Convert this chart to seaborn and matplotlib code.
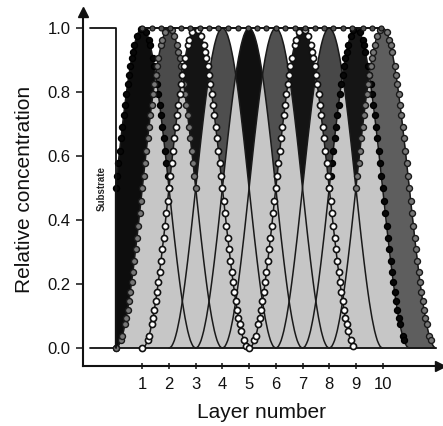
import numpy as np
import pandas as pd
import seaborn as sns
import matplotlib.pyplot as plt

# ---------------------------------------------------------
# data
# ---------------------------------------------------------
layers = [1, 2, 3, 4, 5, 6, 7, 8, 9, 10]

# concentration of one layer vs distance from its own centre
# (0 .. 2 layers, every 0.05 layer) - same shape for all layers
step = 0.05
profile_half = [1.000, 0.998, 0.994, 0.986, 0.976, 0.962, 0.946, 0.926, 0.905, 0.880,
                0.854, 0.825, 0.794, 0.761, 0.727, 0.691, 0.655, 0.617, 0.578, 0.539,
                0.500, 0.461, 0.422, 0.383, 0.345, 0.309, 0.273, 0.239, 0.206, 0.175,
                0.146, 0.120, 0.095, 0.074, 0.054, 0.038, 0.024, 0.014, 0.006, 0.002,
                0.000]

# total concentration (dotted top line)
total_from, total_to, total_level = 1, 10, 1.0

# substrate block on the left
substrate_from, substrate_to = -0.95, 0.0

# colour of the part where a layer is the highest one
peak_colors = ['#0d0d0d', '#4b4b4b', '#141414', '#4e4e4e', '#101010',
               '#505050', '#141414', '#484848', '#151515', '#5e5e5e']
marker_kind = ['filled', 'grey', 'open', None, None, None, 'open', None, 'filled', 'grey']
low_fill = '#c6c6c6'

# ---------------------------------------------------------
# build the curves on a common grid
# ---------------------------------------------------------
half = np.array(profile_half)
shape = np.concatenate([half[::-1], half[1:]])
n_half = len(half) - 1
n_grid = int(round((max(layers) + 2) / step)) + 1
xg = np.round(np.arange(n_grid) * step, 2)

conc = np.full((len(layers), n_grid), np.nan)
for r, lay in enumerate(layers):
    c = int(round(lay / step))
    for k in range(n_grid):
        j = k - c + n_half
        if 0 <= j < len(shape):
            conc[r, k] = shape[j]
filled = np.nan_to_num(conc)
second = np.sort(filled, axis=0)[-2]

rows = []
for r, lay in enumerate(layers):
    ok = ~np.isnan(conc[r])
    xs, ys = xg[ok], conc[r][ok]
    if xs[0] == substrate_to and ys[0] > 0:
        xs = np.r_[substrate_to, xs]
        ys = np.r_[0.0, ys]
    rows.append(pd.DataFrame({'Layer number': xs, 'conc': ys, 'layer': lay}))
df = pd.concat(rows, ignore_index=True)

# ---------------------------------------------------------
# plot
# ---------------------------------------------------------
sns.set_theme(style="ticks")
plt.rcParams['font.family'] = ['Liberation Sans', 'DejaVu Sans']

fig = plt.figure(figsize=(4.43, 4.26), dpi=100)
ax = fig.add_axes([0.1874, 0.1408, 0.8059, 0.831])

ax.fill_between(xg, 0, filled.max(0), color=low_fill, lw=0, zorder=1)
for r in range(len(layers)):
    others = np.delete(filled, r, axis=0).max(0)
    ax.fill_between(xg, others, filled[r], where=filled[r] >= others,
                    interpolate=True, color=peak_colors[r], lw=0, zorder=2)

sns.lineplot(data=df, x='Layer number', y='conc', units='layer', estimator=None,
             sort=False, color='#1a1a1a', lw=1.1, ax=ax, zorder=3)


def dotted(x, y, mask, **kw):
    idx = np.flatnonzero(mask)
    if idx.size == 0:
        return
    for run in np.split(idx, np.flatnonzero(np.diff(idx) > 1) + 1):
        if len(run) < 2:
            ax.plot(x[run], y[run], ls='none', marker='o', **kw)
        else:
            ax.plot(x[run], y[run], ls='none', marker='o', markevery=0.016, **kw)


styles = {
    'filled': dict(mfc='#080808', mec='#000000', ms=4.3, mew=1.0),
    'grey': dict(mfc='#777777', mec='#1a1a1a', ms=4.3, mew=1.0),
    'open': dict(mfc='white', mec='#111111', ms=4.4, mew=1.2),
}
for r, kind in enumerate(marker_kind):
    if kind is None:
        continue
    d = df[df['layer'] == layers[r]]
    xs, ys = d['Layer number'].to_numpy(), d['conc'].to_numpy()
    if kind == 'open':
        mask = np.ones(len(xs), bool)
    else:
        sec = np.interp(xs, xg, second)
        mask = (ys >= sec - 1e-9) & (ys > 0) | (xs == substrate_to)
    dotted(xs, ys, mask, zorder=4 if kind == 'open' else 3.5, **styles[kind])

# total concentration line
top = (xg >= total_from) & (xg <= total_to)
sns.lineplot(x=xg[top], y=np.full(top.sum(), total_level), color='#111111', lw=1.4,
             marker='o', markevery=0.019, ms=3.6, mfc='#505050', mec='#111111',
             mew=0.8, ax=ax, zorder=5)

# substrate outline and base line
ax.plot([substrate_from, substrate_to, substrate_to], [total_level, total_level, 0],
        color='#111111', lw=1.3, zorder=5)
ax.plot([substrate_from, max(layers) + 2], [0, 0], color='#111111', lw=1.3, zorder=2.5)
ax.text((substrate_from + substrate_to) / 2 - 0.05, 0.5, 'Substrate', rotation=90,
        fontsize=7, fontweight='bold', ha='center', va='center')

ax.set_xlim(-1.22, 12.15)
ax.set_ylim(-0.056, 1.05)
ax.set_xticks(layers)
ax.set_yticks([0.0, 0.2, 0.4, 0.6, 0.8, 1.0])
ax.set_yticklabels(['0.0', '0.2', '0.4', '0.6', '0.8', '1.0'])
ax.tick_params(axis='both', labelsize=12, width=1.1, color='#111111', labelcolor='#111111')
ax.tick_params(axis='y', length=5, pad=4)
ax.tick_params(axis='x', length=4, direction='inout', pad=6)
ax.set_xlabel('Layer number', fontsize=15, color='#111111', labelpad=8)
ax.set_ylabel('Relative concentration', fontsize=15, color='#111111', labelpad=10)

sns.despine(ax=ax)
for s in ['left', 'bottom']:
    ax.spines[s].set_linewidth(1.5)
    ax.spines[s].set_color('#111111')
ax.plot(1, 0, marker='>', color='#111111', ms=7, transform=ax.transAxes, clip_on=False)
ax.plot(0, 1, marker='^', color='#111111', ms=7, transform=ax.transAxes, clip_on=False)

fig.savefig('out.png', dpi=100)
